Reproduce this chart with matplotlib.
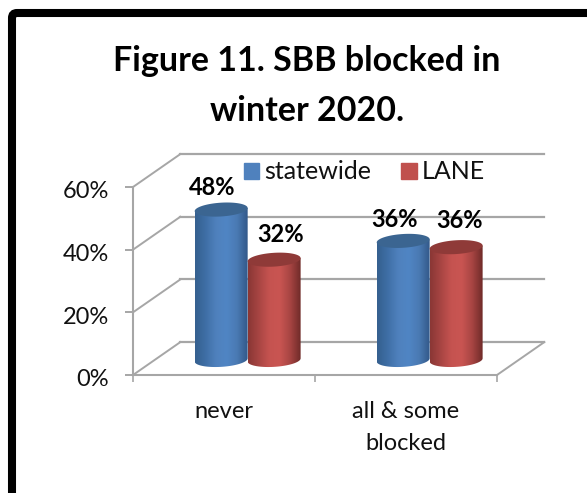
import numpy as np
import matplotlib
matplotlib.use("Agg")
import matplotlib.pyplot as plt
from matplotlib.colors import LinearSegmentedColormap
from matplotlib.patches import FancyBboxPatch, PathPatch, Patch
from matplotlib.path import Path
from matplotlib.transforms import ScaledTranslation

plt.rcParams['font.family'] = ['Lato', 'DejaVu Sans']

categories = ["never", "all & some\nblocked"]
statewide = [48, 38]
lane = [32, 36]
statewide_labels = ["48%", "36%"]
lane_labels = ["32%", "36%"]
yticks = [0, 20, 40, 60]

GRID = "#a6a6a6"
W, H = 587, 493

fig = plt.figure(figsize=(W / 100, H / 100), dpi=100)

# page layer in pixels: black frame and title
bg = fig.add_axes([0, 0, 1, 1])
bg.set_xlim(0, W)
bg.set_ylim(H, 0)
bg.axis("off")
bg.add_patch(FancyBboxPatch((12, 13), 640, 560, boxstyle="round,pad=0,rounding_size=5",
                            fc="white", ec="black", lw=5.8))
bg.text(307, 61, "Figure 11. SBB blocked in", ha="center", va="center",
        fontsize=24.5, fontweight="bold", color="black")
bg.text(307, 111, "winter 2020.", ha="center", va="center",
        fontsize=24.5, fontweight="bold", color="black")

ax = fig.add_axes([133 / W, (H - 375) / H, 364 / W, 188 / H])
ax.patch.set_visible(False)
ax.set_xlim(0, 2)
ax.set_ylim(0, 60)

# 3d box: back wall and side wall
dx, dy = 0.26, 10.5
for v in yticks:
    ax.plot([0, dx], [v, v + dy], color=GRID, lw=1.4, clip_on=False, zorder=1)
    ax.plot([dx, 2 + dx], [v + dy, v + dy], color=GRID, lw=1.6, clip_on=False, zorder=1)
ax.plot([2, 2 + dx], [0, dy], color=GRID, lw=1.4, clip_on=False, zorder=1)

BASE = 4.8


def cylinder(xc, value, cmap, top_color, base=BASE, width=0.291):
    # body shape with a slightly tilted ellipse at both ends
    top = base + value
    a = width / 2
    b, k = 2.2, 0.5
    t = np.linspace(0, 2 * np.pi, 80)
    ex = np.cos(t)
    ey = b * np.sin(t) + k * np.cos(t)
    lower = t[(t >= np.pi)]
    xs = np.r_[xc + a * np.cos(lower), xc + a, xc - a]
    ys = np.r_[base + b * np.sin(lower) + k * np.cos(lower), top + k, top - k]
    body = PathPatch(Path(np.c_[xs, ys]), fc="none", ec="none", transform=ax.transData)
    ax.add_patch(body)
    im = ax.imshow(np.linspace(0, 1, 64)[None, :], cmap=cmap, aspect="auto",
                   extent=[xc - a, xc + a, base - 4, top + 2], zorder=3)
    im.set_clip_path(body)
    ax.fill(xc + a * ex, top + ey, color=top_color, lw=0, zorder=3)


blue_map = LinearSegmentedColormap.from_list(
    "b", ["#35608f", "#3f6fa6", "#4f81bd", "#5085c4", "#4a7ab3", "#33598a"])
red_map = LinearSegmentedColormap.from_list(
    "r", ["#8a3735", "#a84543", "#c55350", "#c95552", "#a84543", "#702b29"])

centers = [0.63, 1.63]
bar_w = 0.291
for i, c in enumerate(centers):
    cylinder(c - bar_w / 2, statewide[i], blue_map, "#3b6591")
    cylinder(c + bar_w / 2, lane[i], red_map, "#8f3a38")
ax.set_xlim(0, 2)
ax.set_ylim(0, 60)

# data labels, shifted off the cylinder tops
for i, c in enumerate(centers):
    ax.annotate(statewide_labels[i], (c - bar_w / 2, statewide[i] + BASE),
                xytext=([-9, -9][i], [22, 21][i]), textcoords="offset pixels",
                ha="center", va="center", fontsize=17, fontweight="bold", color="black", zorder=5)
    ax.annotate(lane_labels[i], (c + bar_w / 2, lane[i] + BASE),
                xytext=([6, 3][i], [25, 27][i]), textcoords="offset pixels",
                ha="center", va="center", fontsize=17, fontweight="bold", color="black", zorder=5)

for s in ["top", "right"]:
    ax.spines[s].set_visible(False)
for s in ["left", "bottom"]:
    ax.spines[s].set_color(GRID)
    ax.spines[s].set_linewidth(1.5)

ax.set_yticks(yticks)
ax.set_yticklabels(["%d%%" % v for v in yticks])
ax.set_xticks([0, 1, 2])
ax.set_xticklabels([])
ax.set_xticks([0.5, 1.5], minor=True)
ax.set_xticklabels(categories, minor=True, linespacing=1.66)
ax.tick_params(axis="y", length=5.5, width=1.4, color=GRID, labelsize=17, pad=12, labelcolor="#111111")
ax.tick_params(axis="x", which="major", length=5, width=1.2, color=GRID)
ax.tick_params(axis="x", which="minor", length=0, labelsize=17, pad=18.5, labelcolor="#111111")

# y labels sit a little below their ticks in the original
shift = ScaledTranslation(0, -3 / 100, fig.dpi_scale_trans)
for lbl in ax.get_yticklabels():
    lbl.set_transform(lbl.get_transform() + shift)

handles = [Patch(color="#4f81bd", label="statewide"), Patch(color="#c0504d", label="LANE")]
fig.legend(handles=handles, loc="center left", bbox_to_anchor=(221 / W, 1 - 172 / H), ncol=2,
           frameon=False, fontsize=18, handlelength=0.62, handleheight=0.62,
           handletextpad=0.2, columnspacing=1.2, labelcolor="#111111")

fig.savefig("out.png", dpi=100)
